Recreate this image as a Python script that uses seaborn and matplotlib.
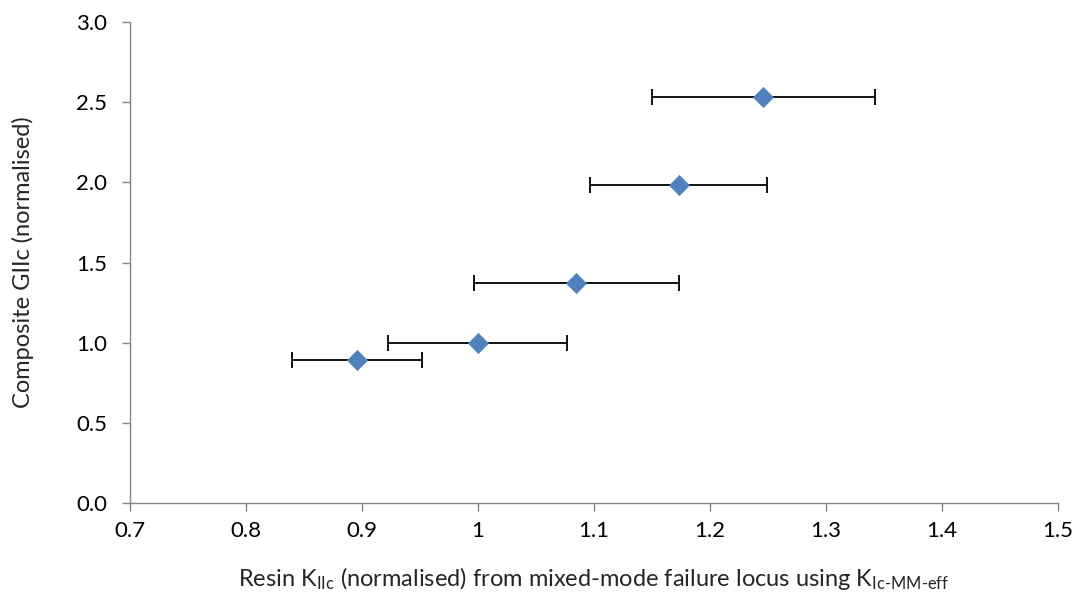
import matplotlib
matplotlib.use("Agg")
import matplotlib.pyplot as plt
import seaborn as sns
import pandas as pd

# values
resin_kiic = [0.896, 1.000, 1.085, 1.173, 1.246]
composite_giic = [0.892, 1.000, 1.371, 1.984, 2.535]
kiic_err = [0.056, 0.077, 0.088, 0.076, 0.096]

x_ticks = [0.7, 0.8, 0.9, 1.0, 1.1, 1.2, 1.3, 1.4, 1.5]
x_tick_labels = ["0.7", "0.8", "0.9", "1", "1.1", "1.2", "1.3", "1.4", "1.5"]
y_ticks = [0.0, 0.5, 1.0, 1.5, 2.0, 2.5, 3.0]

sns.set_style("white")
plt.rcParams['font.family'] = ['Lato', 'DejaVu Sans']
plt.rcParams['mathtext.fontset'] = 'custom'
plt.rcParams['mathtext.rm'] = 'Lato'
plt.rcParams['mathtext.default'] = 'regular'

df = pd.DataFrame({'x': resin_kiic, 'y': composite_giic, 'err': kiic_err})

fig = plt.figure(figsize=(10.78, 5.95), dpi=100)
ax = fig.add_axes([0.1203, 0.1546, 0.8611, 0.8084])

ax.errorbar(df['x'], df['y'], xerr=df['err'], fmt='none', ecolor='black',
            elinewidth=1.3, capsize=5.5, capthick=1.3, zorder=2)
sns.scatterplot(data=df, x='x', y='y', marker='D', s=105, color='#4F81BD',
                edgecolor='#4F81BD', linewidth=0.5, ax=ax, zorder=3)

ax.set_xlim(0.7, 1.5)
ax.set_ylim(0, 3.0)
ax.set_xticks(x_ticks)
ax.set_xticklabels(x_tick_labels)
ax.set_yticks(y_ticks)
ax.set_yticklabels([f"{v:.1f}" for v in y_ticks])

for side in ['top', 'right']:
    ax.spines[side].set_visible(False)
for side in ['left', 'bottom']:
    ax.spines[side].set_color('#868686')
    ax.spines[side].set_linewidth(1.0)

ax.tick_params(axis='both', which='major', direction='out', length=6, width=1.0,
               color='#868686', labelsize=16, labelcolor='black')
ax.tick_params(axis='x', bottom=True, pad=7)
ax.tick_params(axis='y', left=True, pad=10)

ax.set_xlabel(r"Resin K$_{IIc}$ (normalised) from mixed-mode failure locus using K$_{\text{Ic-MM-eff}}$",
              fontsize=17)
ax.set_ylabel("Composite GIIc (normalised)", fontsize=17)
ax.xaxis.set_label_coords(0.5, -0.128)
ax.yaxis.set_label_coords(-0.103, 0.5)

fig.savefig("out.png", dpi=100)
